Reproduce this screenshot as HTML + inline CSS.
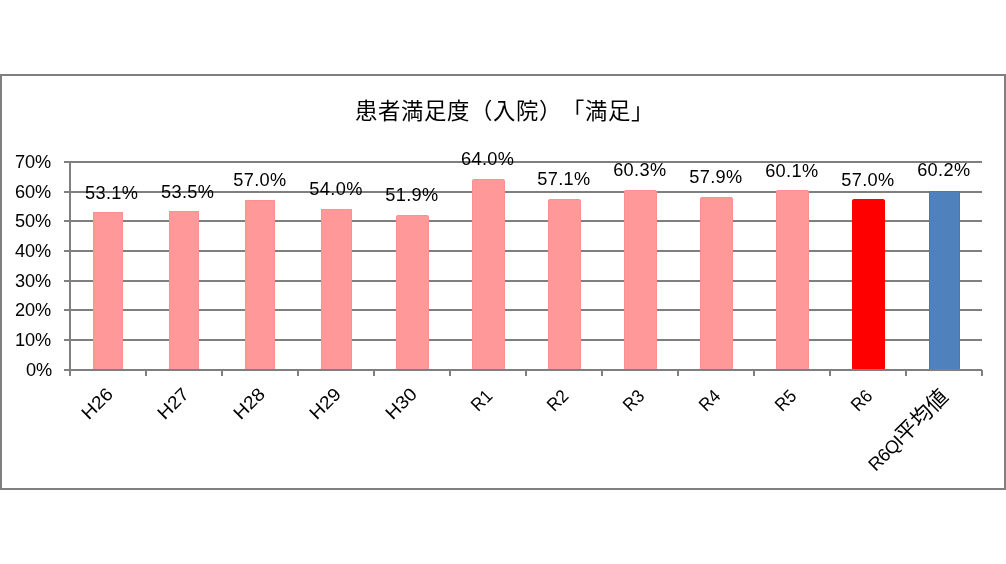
<!DOCTYPE html>
<html lang="ja"><head><meta charset="utf-8"><title>患者満足度（入院）「満足」</title>
<style>
html,body{margin:0;padding:0;background:#fff;}
body{width:1006px;height:564px;overflow:hidden;}
svg{display:block;}
text{font-family:"Liberation Sans","Noto Sans CJK JP",sans-serif;fill:#000;}
.t,.c{font-family:"Noto Sans CJK JP","Liberation Sans",sans-serif;text-spacing-trim:space-all;}
</style></head><body>
<svg width="1006" height="564" viewBox="0 0 1006 564">
<rect x="0" y="0" width="1006" height="564" fill="#fff"/>
<rect x="1" y="75" width="1004" height="414" fill="#fff" stroke="#7f7f7f" stroke-width="2"/>

<g stroke="#7f7f7f" stroke-width="2" fill="none">
<line x1="64" y1="162" x2="982" y2="162"/>
<line x1="64" y1="192" x2="982" y2="192"/>
<line x1="64" y1="221" x2="982" y2="221"/>
<line x1="64" y1="251" x2="982" y2="251"/>
<line x1="64" y1="281" x2="982" y2="281"/>
<line x1="64" y1="310" x2="982" y2="310"/>
<line x1="64" y1="340" x2="982" y2="340"/>
<line x1="64" y1="370" x2="982" y2="370"/>
</g>
<g>
<rect x="93.5" y="212.5" width="29" height="157.5" fill="#FF9999" stroke="#FF9090" stroke-width="1"/>
<rect x="169.5" y="211.5" width="29" height="158.5" fill="#FF9999" stroke="#FF9090" stroke-width="1"/>
<rect x="245.5" y="200.5" width="29" height="169.5" fill="#FF9999" stroke="#FF9090" stroke-width="1"/>
<rect x="321.5" y="209.5" width="30" height="160.5" fill="#FF9999" stroke="#FF9090" stroke-width="1"/>
<rect x="396.5" y="215.5" width="32" height="154.5" fill="#FF9999" stroke="#FF9090" stroke-width="1" rx="1.3"/>
<rect x="472.5" y="179.5" width="32" height="190.5" fill="#FF9999" stroke="#FF9090" stroke-width="1" rx="1.3"/>
<rect x="548.5" y="199.5" width="32" height="170.5" fill="#FF9999" stroke="#FF9090" stroke-width="1" rx="1.3"/>
<rect x="624.5" y="190.5" width="32" height="179.5" fill="#FF9999" stroke="#FF9090" stroke-width="1" rx="1.3"/>
<rect x="700.5" y="197.5" width="32" height="172.5" fill="#FF9999" stroke="#FF9090" stroke-width="1" rx="1.3"/>
<rect x="776.5" y="190.5" width="32" height="179.5" fill="#FF9999" stroke="#FF9090" stroke-width="1" rx="1.3"/>
<rect x="852.5" y="199.5" width="32" height="170.5" fill="#FF0000" stroke="#FF0000" stroke-width="1" rx="1.3"/>
<rect x="929.5" y="191.5" width="30" height="178.5" fill="#4F81BD" stroke="#4577B9" stroke-width="1"/>
</g>
<g stroke="#7f7f7f" stroke-width="2" fill="none">
<line x1="70" y1="161" x2="70" y2="376"/>
<line x1="64" y1="370" x2="982" y2="370"/>
<line x1="146" y1="370" x2="146" y2="376"/>
<line x1="222" y1="370" x2="222" y2="376"/>
<line x1="298" y1="370" x2="298" y2="376"/>
<line x1="374" y1="370" x2="374" y2="376"/>
<line x1="450" y1="370" x2="450" y2="376"/>
<line x1="526" y1="370" x2="526" y2="376"/>
<line x1="602" y1="370" x2="602" y2="376"/>
<line x1="678" y1="370" x2="678" y2="376"/>
<line x1="754" y1="370" x2="754" y2="376"/>
<line x1="830" y1="370" x2="830" y2="376"/>
<line x1="906" y1="370" x2="906" y2="376"/>
<line x1="982" y1="370" x2="982" y2="376"/>
</g>
<g font-size="18.2" text-anchor="end">
<text id="y0" x="51.3" y="168">70%</text>
<text id="y1" x="51.3" y="198">60%</text>
<text id="y2" x="51.3" y="227">50%</text>
<text id="y3" x="51.3" y="257">40%</text>
<text id="y4" x="51.3" y="287">30%</text>
<text id="y5" x="51.3" y="316">20%</text>
<text id="y6" x="51.3" y="346">10%</text>
<text id="y7" x="52.2" y="376">0%</text>
</g>
<g font-size="18.2" text-anchor="middle" letter-spacing="0.35">
<text id="d0" x="111.7" y="198.8">53.1%</text>
<text id="d1" x="187.7" y="197.6">53.5%</text>
<text id="d2" x="259.9" y="185.6">57.0%</text>
<text id="d3" x="336.0" y="194.9">54.0%</text>
<text id="d4" x="411.9" y="201.1">51.9%</text>
<text id="d5" x="487.7" y="164.5">64.0%</text>
<text id="d6" x="563.9" y="184.8">57.1%</text>
<text id="d7" x="639.8" y="175.9">60.3%</text>
<text id="d8" x="715.9" y="183.1">57.9%</text>
<text id="d9" x="791.8" y="176.8">60.1%</text>
<text id="d10" x="867.9" y="185.8">57.0%</text>
<text id="d11" x="943.8" y="175.9">60.2%</text>
</g>
<g font-size="18.2" text-anchor="end">
<text id="x0" transform="translate(114.1,395.3) rotate(-45) scale(1.07,1)">H26</text>
<text id="x1" transform="translate(190.1,395.3) rotate(-45) scale(1.07,1)">H27</text>
<text id="x2" transform="translate(266.1,395.3) rotate(-45) scale(1.07,1)">H28</text>
<text id="x3" transform="translate(342.1,395.3) rotate(-45) scale(1.07,1)">H29</text>
<text id="x4" transform="translate(418.1,395.3) rotate(-45) scale(1.07,1)">H30</text>
<text id="x5" transform="translate(493.5,397.1) rotate(-45) scale(0.92,1)">R1</text>
<text id="x6" transform="translate(569.5,397.1) rotate(-45) scale(0.92,1)">R2</text>
<text id="x7" transform="translate(645.5,397.1) rotate(-45) scale(0.92,1)">R3</text>
<text id="x8" transform="translate(721.5,397.1) rotate(-45) scale(0.92,1)">R4</text>
<text id="x9" transform="translate(797.5,397.1) rotate(-45) scale(0.92,1)">R5</text>
<text id="x10" transform="translate(873.5,397.1) rotate(-45) scale(0.92,1)">R6</text>
<text id="x11" transform="translate(949.5,398.2) rotate(-45) scale(1,1)"><tspan letter-spacing="-0.5">R6QI</tspan><tspan class="c" font-size="21.3">平均値</tspan></text>
</g>
<text id="title" class="t" font-size="22.4" x="354.9 377.9 400.9 423.9 446.9 469.9 492.9 515.9 538.9 561.9 584.9 607.9 630.9" y="119.1">患者満足度（入院）「満足」</text>
</svg></body></html>
